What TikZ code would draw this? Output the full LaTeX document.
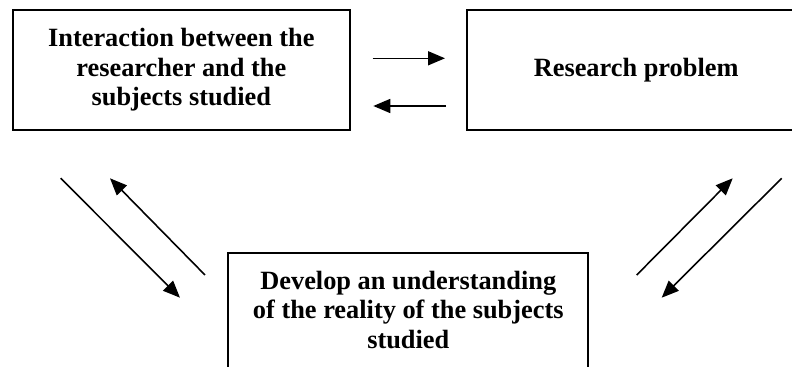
\documentclass[tikz,border=0pt]{standalone}
\usepackage{fontspec}
\setmainfont{Liberation Serif}
\usetikzlibrary{arrows.meta}

\tikzset{
  box/.style={draw, line width=1.1pt, align=center,
    font=\bfseries\fontsize{15}{16.8}\selectfont,
    minimum width=6.75cm, minimum height=2.4cm},
  flow/.style={line width=0.9pt, -{Triangle[length=0.34cm, width=0.28cm]}}
}

\begin{document}
\begin{tikzpicture}
  %%%%% START %%%%%
  \useasboundingbox (0,0) rectangle (15.84,7.34);
  \clip (0,0) rectangle (15.84,7.34);

  \node[box] (interact) at (3.627,5.94) {Interaction between the\\researcher and the\\subjects studied};
  \node[box] (problem) at (12.723,5.94) {Research problem};
  \node[box, minimum width=7.2cm, anchor=north, inner ysep=0.37cm, text depth=2cm] (understand) at (8.166,2.306)
    {Develop an understanding\\of the reality of the subjects\\studied};

  % free ends of the arrows
  \coordinate (ip-s) at (7.454,6.174);
  \coordinate (ip-e) at (8.9,6.174);
  \coordinate (pi-s) at (8.92,5.22);
  \coordinate (pi-e) at (7.466,5.22);

  \coordinate (iu-s) at (1.214,3.774);
  \coordinate (iu-e) at (3.6,1.386);
  \coordinate (ui-s) at (4.1,1.84);
  \coordinate (ui-e) at (2.2,3.774);

  \coordinate (up-s) at (12.734,1.84);
  \coordinate (up-e) at (14.654,3.774);
  \coordinate (pu-s) at (15.634,3.774);
  \coordinate (pu-e) at (13.234,1.386);

  \draw[flow] (ip-s) -- (ip-e);
  \draw[flow] (pi-s) -- (pi-e);
  \draw[flow] (iu-s) -- (iu-e);
  \draw[flow] (ui-s) -- (ui-e);
  \draw[flow] (up-s) -- (up-e);
  \draw[flow] (pu-s) -- (pu-e);
  %%%%% END %%%%%
\end{tikzpicture}
\end{document}
